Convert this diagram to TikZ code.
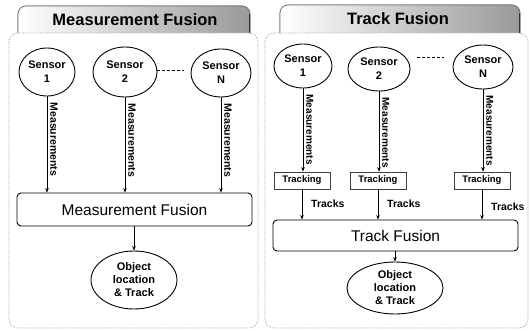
\documentclass[tikz,border=0pt]{standalone}
\usepackage{fontspec}
\setmainfont{Liberation Sans}
\usetikzlibrary{shapes.geometric,arrows.meta,calc}
\begin{document}
\begin{tikzpicture}[x=1pt,y=-1pt,
  sensor/.style={ellipse,draw,line width=0.9pt,inner sep=0pt,align=center,
    font=\fontsize{11}{14}\selectfont\bfseries},
  result/.style={ellipse,draw,line width=0.9pt,inner sep=0pt,align=center,
    font=\fontsize{11}{13}\selectfont\bfseries},
  fusebox/.style={draw,rounded corners=4pt,line width=0.9pt,fill=white,
    inner sep=0pt,font=\fontsize{15.5}{18}\selectfont},
  trackbox/.style={draw=black!75,line width=0.6pt,minimum width=56pt,
    minimum height=17pt,inner sep=0pt,font=\fontsize{9.5}{10}\selectfont\bfseries},
  arr/.style={-{Stealth[length=4.5pt,width=3.6pt]},line width=0.8pt},
  vlabel/.style={rotate=-90,anchor=south west,inner sep=1pt,
    font=\fontsize{10}{12}\selectfont\bfseries},
  hlabel/.style={anchor=west,inner sep=1pt,font=\fontsize{10.5}{12}\selectfont\bfseries},
  panel/.style={draw=black!40,densely dotted,line width=0.7pt,rounded corners=9pt,fill=white},
  tab/.style={draw=black!55,line width=0.7pt,left color=white,right color=black!40},
  tabtitle/.style={inner sep=0pt,font=\fontsize{16.5}{20}\selectfont\bfseries},
  gapdash/.style={densely dashed,line width=0.6pt},
]
\useasboundingbox (0,0) rectangle (530,331);

% ---------------- left: measurement fusion ----------------
\shade[tab,rounded corners=8pt] (18,44) -- (18,6) -- (250,6) -- (250,44) -- cycle;
\draw[tab,rounded corners=8pt,fill=none] (18,44) -- (18,6) -- (250,6) -- (250,44);
\draw[line width=1.6pt,black!80] (249.5,14) -- (249.5,34);
\node[tabtitle] (mftitle) at (135,20) {Measurement Fusion};
\draw[panel] (9,33) rectangle (258,328);

\node[sensor,minimum width=56pt,minimum height=48pt] (ls1) at (47,72) {Sensor\\1};
\node[sensor,minimum width=64pt,minimum height=50pt] (ls2) at (125,72) {Sensor\\2};
\node[sensor,minimum width=60pt,minimum height=48pt] (lsn) at (221,73) {Sensor\\N};
\coordinate (ldash) at (184,70);
\draw[gapdash] (ls2.east |- ldash) -- (ldash);

\node[fusebox,minimum width=235pt,minimum height=33pt] (mf) at (134.5,209.5) {Measurement Fusion};
\foreach \s in {ls1,ls2,lsn}{
  \draw[arr] (\s.south) -- (\s.south |- mf.north);
  \node[vlabel,font=\fontsize{10.5}{12}\selectfont\bfseries] at ($(\s.south)+(2,5)$) {Measurements};
}
\node[result,minimum width=86pt,minimum height=58pt] (lobj) at (134,280) {Object\\location\\\& Track};
\draw[arr] (mf.south -| lobj.north) -- (lobj.north);

% ---------------- right: track fusion ----------------
\shade[tab,rounded corners=8pt] (280,44) -- (280,5) -- (520,5) -- (520,44) -- cycle;
\draw[tab,rounded corners=8pt,fill=none] (280,44) -- (280,5) -- (520,5) -- (520,44);
\draw[line width=1.6pt,black!80] (519.5,13) -- (519.5,34);
\node[tabtitle] (tftitle) at (398,19) {Track Fusion};
\draw[panel] (265,33) rectangle (528,328);

\node[sensor,minimum width=58pt,minimum height=44pt] (rs1) at (303,66) {Sensor\\1};
\node[sensor,minimum width=62pt,minimum height=44pt] (rs2) at (379,69) {Sensor\\2};
\node[sensor,minimum width=60pt,minimum height=44pt] (rsn) at (483,67) {Sensor\\N};
\coordinate (rdashA) at (417,57);
\coordinate (rdashB) at (444,57);
\draw[gapdash] (rdashA) -- (rdashB);

\node[trackbox] (tk1) at (302,180.5) {Tracking};
\node[trackbox] (tk2) at (378,180.5) {Tracking};
\node[trackbox] (tk3) at (482,180.5) {Tracking};
\node[fusebox,minimum width=245pt,minimum height=31pt] (tf) at (395.5,235.5) {Track Fusion};

\foreach \s/\t in {rs1/tk1,rs2/tk2,rsn/tk3}{
  \draw[arr] (\s.south) -- (\s.south |- \t.north);
  \node[vlabel] at ($(\s.south)+(2,5)$) {Measurements};
  \draw[arr] (\t.south) -- (\t.south |- tf.north);
}
\node[hlabel] at ($(tk1.south)+(8,14)$) {Tracks};
\node[hlabel] at ($(tk2.south)+(8,14)$) {Tracks};
\node[hlabel] at ($(tk3.south)+(8,17)$) {Tracks};

\node[result,minimum width=96pt,minimum height=52pt] (robj) at (395,288) {Object\\location\\\& Track};
\draw[arr] (tf.south -| robj.north) -- (robj.north);
\end{tikzpicture}
\end{document}
